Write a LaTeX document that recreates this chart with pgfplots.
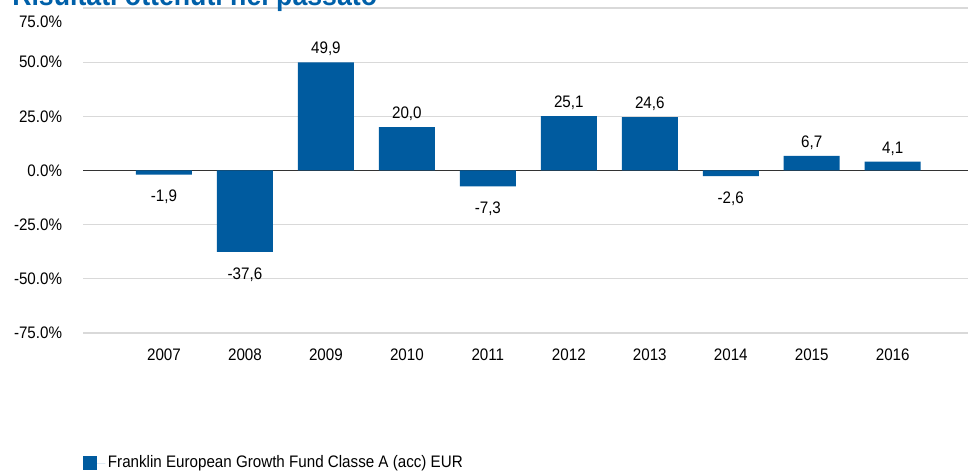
\documentclass[border=0pt]{standalone}
\usepackage{pgfplots}
\pgfplotsset{compat=1.18}
\usepackage{fontspec}
\setmainfont{Liberation Sans}[FakeStretch=0.91]
\definecolor{barblue}{RGB}{0,91,159}
\definecolor{titleblue}{RGB}{0,96,169}
\definecolor{gridgray}{RGB}{217,217,217}
\begin{document}
\fontsize{12.5}{15}\selectfont
\begin{tikzpicture}
\begin{axis}[
    at={(62.25pt,103.5pt)}, anchor=south west,
    scale only axis,
    width=663.75pt, height=243.75pt,
    ybar, bar width=42pt,
    xmin=0, xmax=10.93,
    ymin=-75, ymax=75,
    xtick={1,...,10},
    xticklabels={2007,2008,2009,2010,2011,2012,2013,2014,2015,2016},
    ytick={-75,-50,-25,25,50,75},
    yticklabels={{-75.0\%},{-50.0\%},{-25.0\%},{25.0\%},{50.0\%},{\raisebox{-14.8pt}[0pt][0pt]{75.0\%}}},
    extra y ticks={0},
    extra y tick labels={0.0\%},
    extra y tick style={grid style={draw=black!80, line width=0.8pt}},
    ymajorgrids,
    grid style={draw=gridgray, line width=0.8pt},
    axis line style={draw=none},
    major tick length=0pt,
    /pgf/number format/assume math mode=true,
    yticklabel style={anchor=east, inner sep=0pt, xshift=-15.5pt},
    xticklabel style={anchor=north, inner sep=0pt, yshift=-12pt},
    nodes near coords={\pgfmathprintnumber[fixed,fixed zerofill,precision=1,use comma]{\pgfplotspointmeta}},
    nodes near coords align={vertical},
    every node near coord/.append style={inner sep=4.5pt, text=black},
    coordinate style/.condition={y<0}{yshift=-7pt},
    legend style={at={(0,-0.4)}, anchor=west, draw=none, fill=none, inner sep=0pt,
        cells={anchor=west}},
    legend image code/.code={\fill[barblue] (0pt,-5pt) rectangle (10pt,5pt);
        \path (0pt,0pt) -- (16.5pt,0pt);},
]
\addplot[fill=barblue, draw=none] coordinates {
    (1,-1.9) (2,-37.6) (3,49.9) (4,20.0) (5,-7.3)
    (6,25.1) (7,24.6) (8,-2.6) (9,6.7) (10,4.1)
};
\addlegendentry{Franklin European Growth Fund Classe A (acc) EUR}
\end{axis}
\node[anchor=base west, inner sep=0pt, text=titleblue,
      font=\fontsize{22}{26}\selectfont\bfseries] at (9pt,348.75pt)
      {Risultati ottenuti nel passato};
\pgfresetboundingbox
\path (0,0) rectangle (726pt,353.25pt);
\end{tikzpicture}
\end{document}
